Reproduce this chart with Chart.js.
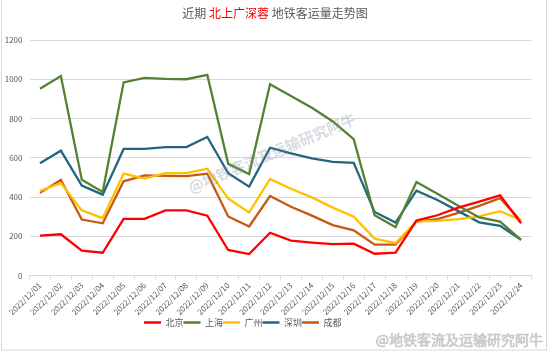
<!DOCTYPE html>
<html>
<head>
<meta charset="utf-8">
<script src="https://cdn.jsdelivr.net/npm/chart.js@4.4.1/dist/chart.umd.min.js"></script>
<style>
html,body{margin:0;padding:0;background:#fff;}
#wrap{position:relative;width:550px;height:353px;}
canvas{display:block;}
</style>
</head>
<body>
<div id="wrap"><canvas id="c" width="550" height="353"></canvas></div>
<script>
const categories = ["2022/12/01","2022/12/02","2022/12/03","2022/12/04","2022/12/05","2022/12/06","2022/12/07","2022/12/08","2022/12/09","2022/12/10","2022/12/11","2022/12/12","2022/12/13","2022/12/14","2022/12/15","2022/12/16","2022/12/17","2022/12/18","2022/12/19","2022/12/20","2022/12/21","2022/12/22","2022/12/23","2022/12/24"];
const beijing   = [203, 210, 127, 116, 289, 289, 332, 332, 305, 130, 109, 218, 178, 168, 160, 162, 111, 116, 280, 307, 346, 376, 408, 266];
const shanghai  = [952, 1016, 488, 426, 984, 1007, 1002, 1000, 1022, 569, 517, 975, 915, 855, 785, 695, 307, 246, 476, 417, 355, 296, 275, 182];
const guangzhou = [431, 471, 332, 292, 519, 494, 521, 522, 544, 392, 321, 492, 442, 398, 346, 300, 188, 165, 276, 278, 287, 301, 328, 283];
const shenzhen  = [572, 636, 458, 412, 645, 645, 654, 654, 706, 521, 453, 651, 622, 597, 579, 574, 324, 270, 432, 385, 328, 271, 253, 182];
const chengdu   = [421, 487, 285, 266, 480, 510, 508, 506, 519, 301, 250, 405, 350, 305, 257, 230, 157, 157, 275, 287, 319, 355, 394, 278];
const seriesNames = ["北京","上海","广州","深圳","成都"];
const yTicks = [0, 200, 400, 600, 800, 1000, 1200];
const titleParts = [["近期 ", "#595959"], ["北上广深蓉", "#FF0000"], [" 地铁客运量走势图", "#595959"]];
const watermark = "@地铁客流及运输研究阿牛";

const FONT = "'Noto Sans CJK SC', 'Noto Sans', sans-serif";
const colors = ["#FF0000", "#548235", "#FFC000", "#23667F", "#C55A11"];
const seriesData = [beijing, shanghai, guangzhou, shenzhen, chengdu];

const legendShift = {
  id: 'legendShift',
  afterLayout(chart) {
    const lg = chart.legend;
    if (lg) { lg.left -= 23; lg.right -= 23; }
  }
};

const decor = {
  id: 'decor',
  afterDraw(chart) {
    const ctx = chart.ctx;
    ctx.save();
    ctx.strokeStyle = '#d9d9d9';
    ctx.lineWidth = 1;
    ctx.strokeRect(1.5, -2, 545, 352);
    ctx.font = "12px " + FONT;
    ctx.textBaseline = 'middle';
    let total = 0;
    titleParts.forEach(p => total += ctx.measureText(p[0]).width);
    let x = 275 - total / 2;
    titleParts.forEach(p => {
      ctx.fillStyle = p[1];
      ctx.textAlign = 'left';
      ctx.fillText(p[0], x, 13);
      x += ctx.measureText(p[0]).width;
    });
    ctx.save();
    ctx.translate(272, 153);
    ctx.rotate(-23 * Math.PI / 180);
    ctx.font = "bold 15px " + FONT;
    ctx.textAlign = 'center';
    ctx.fillStyle = 'rgba(130,140,160,0.32)';
    ctx.fillText(watermark, 0, 0);
    ctx.restore();
    ctx.font = "14px " + FONT;
    ctx.textAlign = 'right';
    ctx.textBaseline = 'middle';
    ctx.fillStyle = '#d8d8d8';
    ctx.strokeStyle = '#c0c0c0';
    ctx.lineWidth = 0.6;
    ctx.fillText(watermark, 543, 340);
    ctx.strokeText(watermark, 543, 340);
    ctx.restore();
  }
};

new Chart(document.getElementById('c'), {
  type: 'line',
  data: {
    labels: categories,
    datasets: seriesNames.map((n, i) => ({
      label: n,
      data: seriesData[i],
      borderColor: colors[i],
      backgroundColor: colors[i],
      borderWidth: 2.3,
      pointRadius: 0,
      tension: 0,
      fill: false
    }))
  },
  options: {
    responsive: false,
    animation: false,
    devicePixelRatio: 1,
    layout: { padding: { top: 40, left: 0, right: 18.5, bottom: 16 } },
    plugins: {
      title: { display: false },
      tooltip: { enabled: false },
      legend: {
        position: 'bottom',
        labels: {
          boxWidth: 17,
          boxHeight: 2.5,
          padding: 0,
          color: '#595959',
          font: { family: FONT, size: 9 },
          generateLabels(chart) {
            return chart.data.datasets.map((d, i) => ({
              text: d.label,
              fillStyle: d.borderColor,
              strokeStyle: d.borderColor,
              lineWidth: 0,
              fontColor: '#595959',
              datasetIndex: i,
              hidden: false
            }));
          }
        }
      }
    },
    scales: {
      x: {
        offset: true,
        afterFit(s) { s.height = 42.5; },
        grid: { display: true, drawOnChartArea: false, drawTicks: true, tickLength: 4, color: '#d9d9d9', offset: true },
        border: { display: true, color: '#d9d9d9' },
        ticks: {
          autoSkip: false, maxRotation: 45, minRotation: 45, padding: 1,
          color: '#595959', font: { family: FONT, size: 8 }
        }
      },
      y: {
        min: 0, max: 1200,
        afterFit(s) { s.width = 29.5; },
        afterBuildTicks(s) { s.ticks = yTicks.map(v => ({ value: v })); },
        grid: { color: '#d9d9d9', drawTicks: false },
        border: { display: false },
        ticks: { padding: 7, color: '#595959', font: { family: FONT, size: 8 }, callback: v => String(v) }
      }
    }
  },
  plugins: [legendShift, decor]
});
</script>
</body>
</html>
